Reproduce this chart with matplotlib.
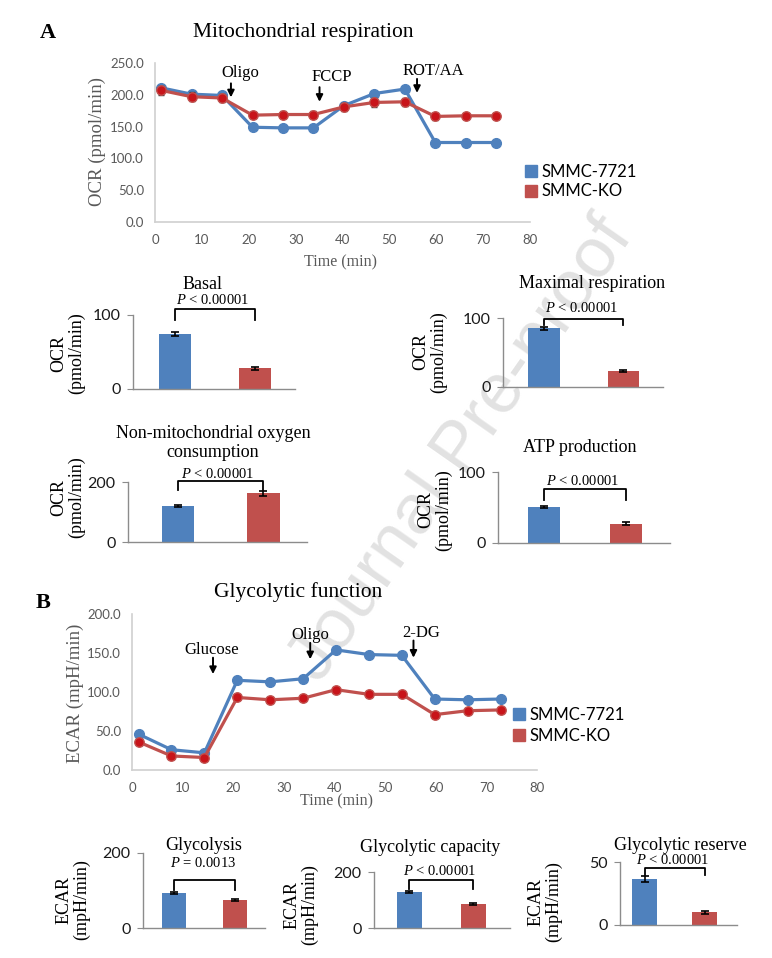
import matplotlib
matplotlib.use('Agg')
import matplotlib.pyplot as plt
from matplotlib.lines import Line2D

W, H = 772, 958
SERIF = 'Liberation Serif'
SANS = 'Lato'
plt.rcParams['mathtext.fontset'] = 'custom'
plt.rcParams['mathtext.it'] = 'Liberation Serif:italic'
plt.rcParams['mathtext.rm'] = 'Liberation Serif'

BLUE = '#4F81BD'
RED = '#C0504D'
RED_MK = '#C8141A'
AX_GRAY = '#D0D0D0'
BAR_AX = '#8C8C8C'
TXT_GRAY = '#595959'

# ---------------- data ----------------
series_names = ['SMMC-7721', 'SMMC-KO']
time_min = [1.3, 7.8, 14.3, 20.8, 27.3, 33.8, 40.3, 46.8, 53.3, 59.8, 66.3, 72.8]

ocr_7721 = [211, 201, 199, 149, 148, 148, 183, 202, 209, 125, 125, 125]
ocr_ko = [207, 197, 195, 168, 169, 169, 181, 188, 189, 166, 167, 167]
ocr_7721_err = [3, 3, 3, 2, 2, 2, 4, 3, 3, 2, 2, 2]
ocr_ko_err = [7, 7, 6, 5, 5, 5, 6, 7, 6, 5, 5, 5]
ocr_events = ['Oligo', 'FCCP', 'ROT/AA']
ocr_event_times = [16.2, 35.1, 55.9]

ecar_7721 = [46, 26, 22, 115, 113, 117, 154, 148, 147, 91, 90, 91]
ecar_ko = [36, 18, 16, 93, 90, 92, 103, 97, 97, 71, 76, 77]
ecar_7721_err = [2, 2, 2, 2, 2, 2, 2, 2, 2, 2, 2, 2]
ecar_ko_err = [2, 2, 2, 2, 2, 2, 2, 2, 2, 2, 2, 2]
ecar_events = ['Glucose', 'Oligo', '2-DG']
ecar_event_times = [16.0, 35.2, 55.6]

bar_titles = ['Basal', 'Maximal respiration', 'Non-mitochondrial oxygen\nconsumption',
              'ATP production', 'Glycolysis', 'Glycolytic capacity', 'Glycolytic reserve']
bar_7721 = [74, 85, 120, 51, 93, 128, 36.5]
bar_ko = [28, 23, 163, 27, 75, 86, 10.3]
bar_7721_err = [2.5, 2.5, 4, 1.5, 3, 4, 2]
bar_ko_err = [2, 1, 8, 2, 3, 4, 1.2]
bar_p = ['< 0.00001', '< 0.00001', '< 0.00001', '< 0.00001', '= 0.0013', '< 0.00001', '< 0.00001']
bar_ymax = [100, 100, 200, 100, 200, 200, 50]
bar_ylabels = ['OCR\n(pmol/min)'] * 4 + ['ECAR\n(mpH/min)'] * 3

# ---------------- layout (pixels) ----------------
bar_rects = [(133, 315, 295, 389), (503, 318, 663, 387), (128, 482, 307, 542),
             (498, 472, 670, 543), (143, 853, 265, 928), (374, 872, 510, 928),
             (620, 862, 737, 925)]
bar_xlims = [(-0.525, 1.5), (-0.52, 1.5), (-0.585, 1.51), (-0.56, 1.53),
             (-0.51, 1.49), (-0.55, 1.57), (-0.41, 1.54)]
bar_widths = [0.4, 0.4, 0.38, 0.39, 0.39, 0.39, 0.42]
bracket_legs = [93, 90, 173, 60.5, 101, 140, 39.7]
bracket_tops = [108, 98.5, 203, 76, 128, 171, 45]
p_text_y = [120, 114, 227, 87, 173, 203, 51.5]
title_pos = [(203, 284), (592, 283), (213, 443), (580, 447), (204, 845), (430, 847), (680, 845)]
ylabel_pos = [(68, 353), (430, 352), (68, 497), (435, 510), (73, 900), (301, 905), (545, 902)]

fig = plt.figure(figsize=(W / 100, H / 100), dpi=100)


def rect(l, t, r, b):
    return [l / W, 1 - b / H, (r - l) / W, (b - t) / H]


def ftxt(x, y, s, **kw):
    kw.setdefault('ha', 'center')
    kw.setdefault('va', 'center')
    return fig.text(x / W, 1 - y / H, s, **kw)


# watermark
ftxt(462, 450, 'Journal Pre-proof', fontsize=51, family='Liberation Sans',
     color='#E2E2E2', rotation=55, zorder=-5)


def line_panel(ax, t, b_vals, b_err, r_vals, r_err, ymax, events, ev_times,
               ev_text_dx, ev_text_y, ev_y0, ev_y1):
    ax.set_facecolor('none')
    ax.errorbar(t, r_vals, yerr=r_err, color=RED, lw=2.3, marker='o', ms=6.8,
                mfc=RED_MK, mec=RED, ecolor='#3a3a3a', elinewidth=1, capsize=2, zorder=3)
    ax.errorbar(t, b_vals, yerr=b_err, color=BLUE, lw=2.3, marker='o', ms=7,
                mfc=BLUE, mec=BLUE, ecolor='#3a3a3a', elinewidth=1, capsize=2, zorder=2)
    ax.set_xlim(0, 80)
    ax.set_ylim(0, ymax)
    ax.set_xticks(range(0, 81, 10))
    ax.set_yticks(range(0, ymax + 1, 50))
    ax.set_yticklabels([f'{v:.1f}' for v in range(0, ymax + 1, 50)])
    for s in ['top', 'right']:
        ax.spines[s].set_visible(False)
    for s in ['left', 'bottom']:
        ax.spines[s].set_color(AX_GRAY)
        ax.spines[s].set_linewidth(1.2)
    ax.tick_params(length=0, labelsize=9.5, labelcolor=TXT_GRAY)
    ax.tick_params(axis='x', pad=9)
    ax.tick_params(axis='y', pad=8)
    for lab in ax.get_xticklabels() + ax.get_yticklabels():
        lab.set_family(SANS)
    for name, xt, dx, ty, y0, y1 in zip(events, ev_times, ev_text_dx, ev_text_y, ev_y0, ev_y1):
        ax.text(xt + dx, ty, name, ha='center', va='center', family=SERIF, fontsize=12,
                color='black', clip_on=False)
        ax.annotate('', xy=(xt, y1), xytext=(xt, y0),
                    arrowprops=dict(arrowstyle='-|>', color='black', lw=1.4,
                                    mutation_scale=10, shrinkA=0, shrinkB=0),
                    annotation_clip=False)


# ---- Panel A line chart
axA = fig.add_axes(rect(155, 63, 530, 222))
line_panel(axA, time_min, ocr_7721, ocr_7721_err, ocr_ko, ocr_ko_err, 250,
           ocr_events, ocr_event_times, [1.9, 2.6, 3.4], [234, 228, 237],
           [218, 212, 225], [196, 189, 203])
ftxt(97, 142, 'OCR (pmol/min)', rotation=90, family=SERIF, fontsize=13.5, color=TXT_GRAY)
ftxt(341, 262, 'Time (min)', family=SERIF, fontsize=11.5, color=TXT_GRAY)
ftxt(303, 32, 'Mitochondrial respiration', family=SERIF, fontsize=15.5)
ftxt(48, 33, 'A', family=SERIF, fontsize=16, weight='bold')

handles = [Line2D([], [], ls='none', marker='s', ms=8.5, mfc=BLUE, mec=BLUE),
           Line2D([], [], ls='none', marker='s', ms=8.5, mfc=RED, mec=RED)]
fig.legend(handles, series_names, loc='upper left', bbox_to_anchor=(526 / W, 1 - 164 / H),
           frameon=False, handlelength=0.6, handletextpad=0.3, labelspacing=0.2,
           borderpad=0, borderaxespad=0, prop={'family': SANS, 'size': 12})

# ---- Panel B line chart
axB = fig.add_axes(rect(132, 614, 537, 770))
line_panel(axB, time_min, ecar_7721, ecar_7721_err, ecar_ko, ecar_ko_err, 200,
           ecar_events, ecar_event_times, [-0.2, 0.1, 1.6], [154, 173, 176],
           [144, 163, 166], [123, 142, 144])
ftxt(75, 693, 'ECAR (mpH/min)', rotation=90, family=SERIF, fontsize=13.5, color=TXT_GRAY)
ftxt(336, 801, 'Time (min)', family=SERIF, fontsize=11.5, color=TXT_GRAY)
ftxt(298, 592, 'Glycolytic function', family=SERIF, fontsize=15.5)
ftxt(43, 603, 'B', family=SERIF, fontsize=16, weight='bold')
fig.legend(handles, series_names, loc='upper left', bbox_to_anchor=(514 / W, 1 - 707 / H),
           frameon=False, handlelength=0.6, handletextpad=0.3, labelspacing=0.3,
           borderpad=0, borderaxespad=0, prop={'family': SANS, 'size': 12})

# ---- bar charts
for i in range(len(bar_titles)):
    ax = fig.add_axes(rect(*bar_rects[i]))
    ax.set_facecolor('none')
    w = bar_widths[i]
    ax.bar([0], [bar_7721[i]], width=w, color=BLUE, zorder=2)
    ax.bar([1], [bar_ko[i]], width=w, color=RED, zorder=2)
    ax.errorbar([0, 1], [bar_7721[i], bar_ko[i]], yerr=[bar_7721_err[i], bar_ko_err[i]],
                fmt='none', ecolor='black', elinewidth=1.2, capsize=3, capthick=1.2, zorder=3)
    ax.set_xlim(*bar_xlims[i])
    ax.set_ylim(0, bar_ymax[i])
    ax.set_xticks([])
    ax.set_yticks([0, bar_ymax[i]])
    for s in ['top', 'right']:
        ax.spines[s].set_visible(False)
    for s in ['left', 'bottom']:
        ax.spines[s].set_color(BAR_AX)
        ax.spines[s].set_linewidth(1.0)
    ax.tick_params(axis='y', length=4, color=BAR_AX, labelsize=11.5, pad=5, labelcolor='#1a1a1a')
    for lab in ax.get_yticklabels():
        lab.set_family(SANS)
    ax.plot([0, 0, 1, 1], [bracket_legs[i], bracket_tops[i], bracket_tops[i], bracket_legs[i]],
            color='black', lw=1.3, clip_on=False, zorder=4)
    ax.text(0.47, p_text_y[i], '$P$ ' + bar_p[i], ha='center', va='center', family=SERIF,
            fontsize=10.5, clip_on=False)
    ftxt(*title_pos[i], bar_titles[i], family=SERIF, fontsize=13, linespacing=1.1)
    ftxt(*ylabel_pos[i], bar_ylabels[i], rotation=90, family=SERIF, fontsize=13,
         linespacing=1.05, multialignment='center')

fig.savefig('out.png', dpi=100)
